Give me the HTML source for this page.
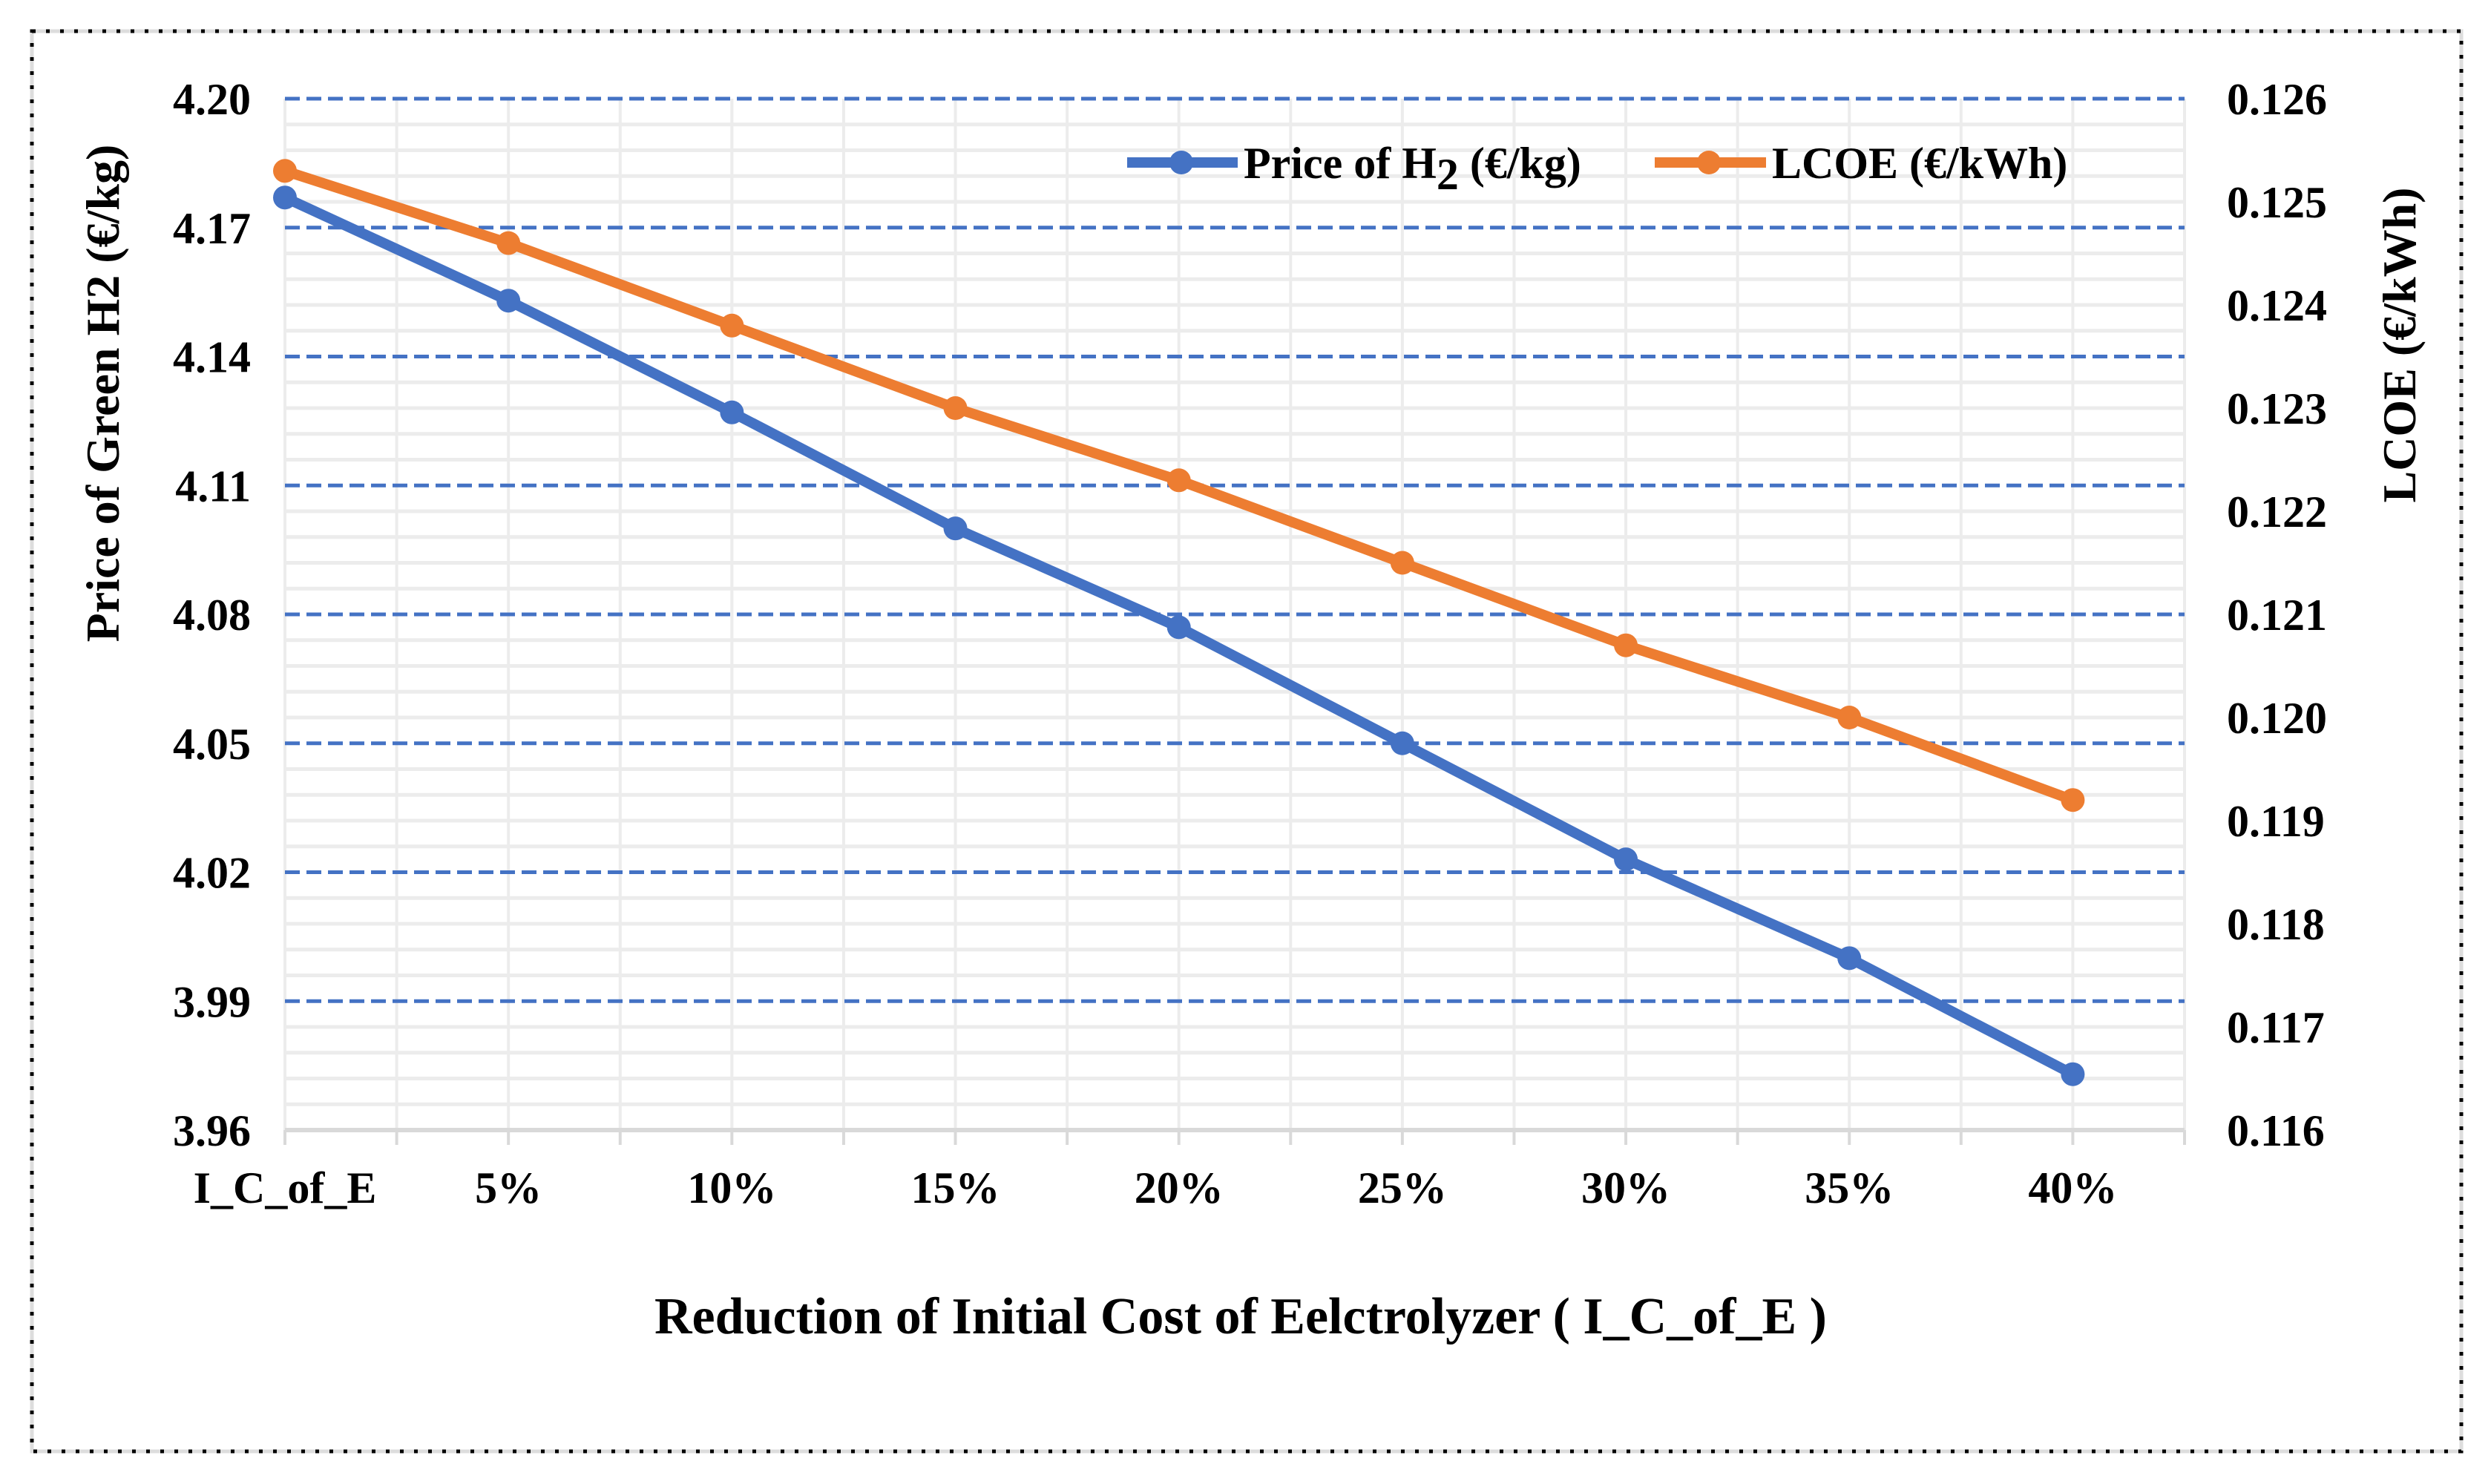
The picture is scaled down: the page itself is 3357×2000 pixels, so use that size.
<!DOCTYPE html>
<html><head><meta charset="utf-8"><style>
html,body{margin:0;padding:0;background:#fff;}
svg{display:block;font-family:"Liberation Serif",serif;font-weight:bold;}
</style></head><body>
<svg id="chart" width="3357" height="2000" viewBox="0 0 3357 2000" xmlns="http://www.w3.org/2000/svg">
<rect x="43" y="42" width="3274" height="1914" fill="#fff" stroke="#ddd" stroke-width="5"/>
<rect x="43" y="42" width="3274" height="1914" fill="none" stroke="#000" stroke-width="5" stroke-dasharray="5 14"/>
<g id="grid"></g>
<g id="axes"></g>
<g id="series"></g>
<text transform="translate(160,530) rotate(-90)" text-anchor="middle" font-size="64">Price of Green H2 (€/kg)</text>
<text transform="translate(3255,465) rotate(-90)" text-anchor="middle" font-size="64">LCOE (€/kWh)</text>
<text x="1672" y="1797" text-anchor="middle" font-size="70">Reduction of Initial  Cost  of Eelctrolyzer ( I_C_of_E )</text>
<g>
  <g>
    <line x1="1519" y1="219" x2="1668" y2="219" stroke="#4472C4" stroke-width="14"/>
    <circle cx="1592" cy="219" r="16" fill="#4472C4"/>
    <text x="1676" y="240" font-size="60">Price of H<tspan dy="15">2</tspan><tspan dy="-15"> (€/kg)</tspan></text>
  </g>
  <g>
    <line x1="2230" y1="219" x2="2380" y2="219" stroke="#ED7D31" stroke-width="14"/>
    <circle cx="2303" cy="219" r="16" fill="#ED7D31"/>
    <text x="2388" y="240" font-size="60">LCOE (€/kWh)</text>
  </g>
</g>
</svg>
<script>
const categories = ["I_C_of_E","5%","10%","15%","20%","25%","30%","35%","40%"];
const priceH2 = [4.177,4.153,4.127,4.100,4.077,4.050,4.023,4.000,3.973];
const lcoe = [0.1253,0.1246,0.1238,0.1230,0.1223,0.1215,0.1207,0.1200,0.1192];
const leftTicks = ["3.96","3.99","4.02","4.05","4.08","4.11","4.14","4.17","4.20"];
const rightTicks = ["0.116","0.117","0.118","0.119","0.120","0.121","0.122","0.123","0.124","0.125","0.126"];

const NS="http://www.w3.org/2000/svg";
const L=384, R=2944, T=133, B=1523;
const step=(R-L)/(categories.length-0.5);
const xPos=i=>L+i*step;
const yL=v=>B-(v-3.96)/(4.20-3.96)*(B-T);
const yR=v=>B-(v-0.116)/(0.126-0.116)*(B-T);
function mk(tag,attrs,parent){const e=document.createElementNS(NS,tag);for(const k in attrs)e.setAttribute(k,attrs[k]);parent.appendChild(e);return e;}
const grid=document.getElementById('grid'),axes=document.getElementById('axes'),series=document.getElementById('series');

for(let k=1;k<40;k++){ if(k%5===0) continue;
  const y=B-k*(B-T)/40;
  const ln=mk('line',{x1:L,x2:R,y1:y,y2:y,stroke:'#ececec','stroke-width':5},grid);
  
  
}
for(let k=0;k<=2*categories.length-1;k++){
  const x=L+k*step/2;
  const ln=mk('line',{x1:x,x2:x,y1:T,y2:B,stroke:'#ececec','stroke-width':4},grid);
  
  
  const tk=mk('line',{x1:x,x2:x,y1:B,y2:B+20,stroke:'#d9d9d9','stroke-width':4},axes);
  
  
}
leftTicks.forEach((t,i)=>{
  const y=yL(parseFloat(t));
  if(i>0){
    const ln=mk('line',{x1:L,x2:R,y1:y,y2:y,stroke:'#4472C4','stroke-width':5,'stroke-dasharray':'20 9'},grid);
    
    
  }
  const tx=mk('text',{x:L-46,y:y+21,'text-anchor':'end','font-size':60},axes);
  tx.textContent=t;
  
  
});
rightTicks.forEach(t=>{
  const y=yR(parseFloat(t));
  const tx=mk('text',{x:3001,y:y+21,'font-size':60},axes);
  tx.textContent=t;
  
  
});
const ax=mk('line',{x1:L,x2:R,y1:B,y2:B,stroke:'#d9d9d9','stroke-width':6},axes);


categories.forEach((c,i)=>{
  const tx=mk('text',{x:xPos(i),y:1621,'text-anchor':'middle','font-size':60},axes);
  tx.textContent=c;
  
  
});
function drawSeries(vals,yf,color,name){
  const pts=vals.map((v,i)=>xPos(i)+','+yf(v)).join(' ');
  const pl=mk('polyline',{points:pts,fill:'none',stroke:color,'stroke-width':14,'stroke-linejoin':'round'},series);
  
  
  vals.forEach((v,i)=>{
    const c=mk('circle',{cx:xPos(i),cy:yf(v),r:16,fill:color},series);
    
    
  });
}
drawSeries(lcoe,yR,'#ED7D31','lcoe');
drawSeries(priceH2,yL,'#4472C4','price-h2');
</script>
</body></html>
